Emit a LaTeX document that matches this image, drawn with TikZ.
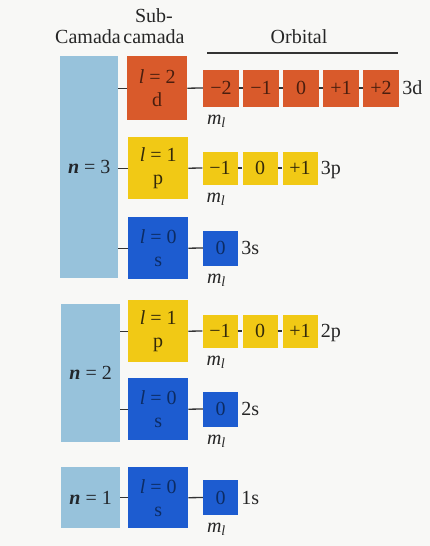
\documentclass[tikz,border=0pt]{standalone}
\usepackage{fontspec}
\setmainfont{Liberation Serif}
\definecolor{bg}{HTML}{F8F8F6}
\definecolor{nblue}{HTML}{97C2DB}
\definecolor{ntext}{HTML}{22262B}
\definecolor{dorange}{HTML}{D95A2B}
\definecolor{dtext}{HTML}{4A1E0E}
\definecolor{pyellow}{HTML}{F1C915}
\definecolor{ptext}{HTML}{33290A}
\definecolor{sblue}{HTML}{1D5CD0}
\definecolor{stext}{HTML}{0C2C64}
\definecolor{linec}{HTML}{333333}
\definecolor{lbl}{HTML}{262626}
\newcommand{\lval}[1]{\textit{l} = #1}
\newcommand{\mlab}{\textit{m}\textsubscript{\textit{l}}}
\begin{document}
\begin{tikzpicture}[x=1pt,y=-1pt,
  font=\fontsize{20}{23}\selectfont,
  nbox/.style={fill=nblue, text=ntext, inner sep=0pt, anchor=north west},
  subbox/.style={inner sep=0pt, anchor=north west, align=center, minimum width=60pt, minimum height=62pt},
  dsub/.style={subbox, fill=dorange, text=dtext},
  psub/.style={subbox, fill=pyellow, text=ptext},
  ssub/.style={subbox, fill=sblue, text=stext},
  dorb/.style={fill=dorange, text=dtext, inner sep=0pt, minimum width=36pt, minimum height=37pt},
  porb/.style={fill=pyellow, text=ptext, inner sep=0pt, minimum width=35pt, minimum height=33pt},
  sorb/.style={fill=sblue, text=stext, inner sep=0pt, minimum width=35pt, minimum height=35pt},
  conn/.style={draw=linec, line width=1.3pt},
  head/.style={text=lbl, inner sep=0pt, anchor=base},
  ml/.style={text=lbl, inner sep=0pt, anchor=north west, xshift=4pt, yshift=-8pt},
  tag/.style={text=lbl, inner sep=0pt, anchor=base west, xshift=3pt, yshift=-6.5pt}
]
\path[fill=bg] (0,0) rectangle (430,546);
\useasboundingbox (0,0) rectangle (430,546);

% headers
\node[head] (hsub) at (154,22) {Sub-};
\node[head] (hcam) at (88,43) {Camada};
\node[head] (hcam2) at (154,43) {camada};
\node[head] (horb) at (299,43) {Orbital};
\coordinate (ol) at (207,53);
\coordinate (or) at (398,53);
\draw[conn, line width=1.2pt] (ol) -- (or);

% shells
\node[nbox, minimum width=58pt, minimum height=222pt] (n3) at (60,56) {\textbf{\textit{n}} = 3};
\node[nbox, minimum width=59pt, minimum height=138pt] (n2) at (61,304) {\textbf{\textit{n}} = 2};
\node[nbox, minimum width=59pt, minimum height=61pt] (n1) at (61,467) {\textbf{\textit{n}} = 1};

% subshells
\node[dsub, minimum height=64pt] (d3) at (127,56) {\lval{2}\\d};
\node[psub] (p3) at (128,137) {\lval{1}\\p};
\node[ssub] (s3) at (128,217) {\lval{0}\\s};
\node[psub] (p2) at (128,300) {\lval{1}\\p};
\node[ssub] (s2) at (128,378) {\lval{0}\\s};
\node[ssub, minimum height=61pt] (s1) at (128,467) {\lval{0}\\s};

% shell -> subshell connectors
\draw[conn] (n3.east |- d3.west) -- (d3.west);
\draw[conn] (n3.east |- p3.west) -- (p3.west);
\draw[conn] (n3.east |- s3.west) -- (s3.west);
\draw[conn] (n2.east |- p2.west) -- (p2.west);
\draw[conn] (n2.east |- s2.west) -- (s2.west);
\draw[conn] (n1.east |- s1.west) -- (s1.west);

% 3d orbitals
\node[dorb] (d31) at (221,88) {−2};
\node[dorb] (d32) at (261,88) {−1};
\node[dorb] (d33) at (301,88) {0};
\node[dorb] (d34) at (341,88) {+1};
\node[dorb] (d35) at (381,88) {+2};
\draw[conn] (d3.east) -- (d31.west);
\foreach \i/\j in {1/2,2/3,3/4,4/5} \draw[conn] (d3\i.east) -- (d3\j.west);
\node[tag] (t3d) at (d35.east) {3d};
\node[ml] (m3d) at (d31.south west) {\mlab};

% 3p orbitals
\node[porb] (p31) at (220,168) {−1};
\node[porb] (p32) at (260,168) {0};
\node[porb] (p33) at (300,168) {+1};
\draw[conn] (p3.east) -- (p31.west);
\draw[conn] (p31.east) -- (p32.west);
\draw[conn] (p32.east) -- (p33.west);
\node[tag] (t3p) at (p33.east) {3p};
\node[ml] (m3p) at (p31.south west) {\mlab};

% 3s orbital
\node[sorb] (s31) at (220.5,248) {0};
\draw[conn] (s3.east) -- (s31.west);
\node[tag] (t3s) at (s31.east) {3s};
\node[ml] (m3s) at (s31.south west) {\mlab};

% 2p orbitals
\node[porb] (p21) at (220,331) {−1};
\node[porb] (p22) at (260,331) {0};
\node[porb] (p23) at (300,331) {+1};
\draw[conn] (p2.east) -- (p21.west);
\draw[conn] (p21.east) -- (p22.west);
\draw[conn] (p22.east) -- (p23.west);
\node[tag] (t2p) at (p23.east) {2p};
\node[ml] (m2p) at (p21.south west) {\mlab};

% 2s orbital
\node[sorb] (s21) at (220.5,409) {0};
\draw[conn] (s2.east) -- (s21.west);
\node[tag] (t2s) at (s21.east) {2s};
\node[ml] (m2s) at (s21.south west) {\mlab};

% 1s orbital
\node[sorb] (s11) at (220.5,497.5) {0};
\draw[conn] (s1.east) -- (s11.west);
\node[tag] (t1s) at (s11.east) {1s};
\node[ml] (m1s) at (s11.south west) {\mlab};
\end{tikzpicture}
\end{document}
